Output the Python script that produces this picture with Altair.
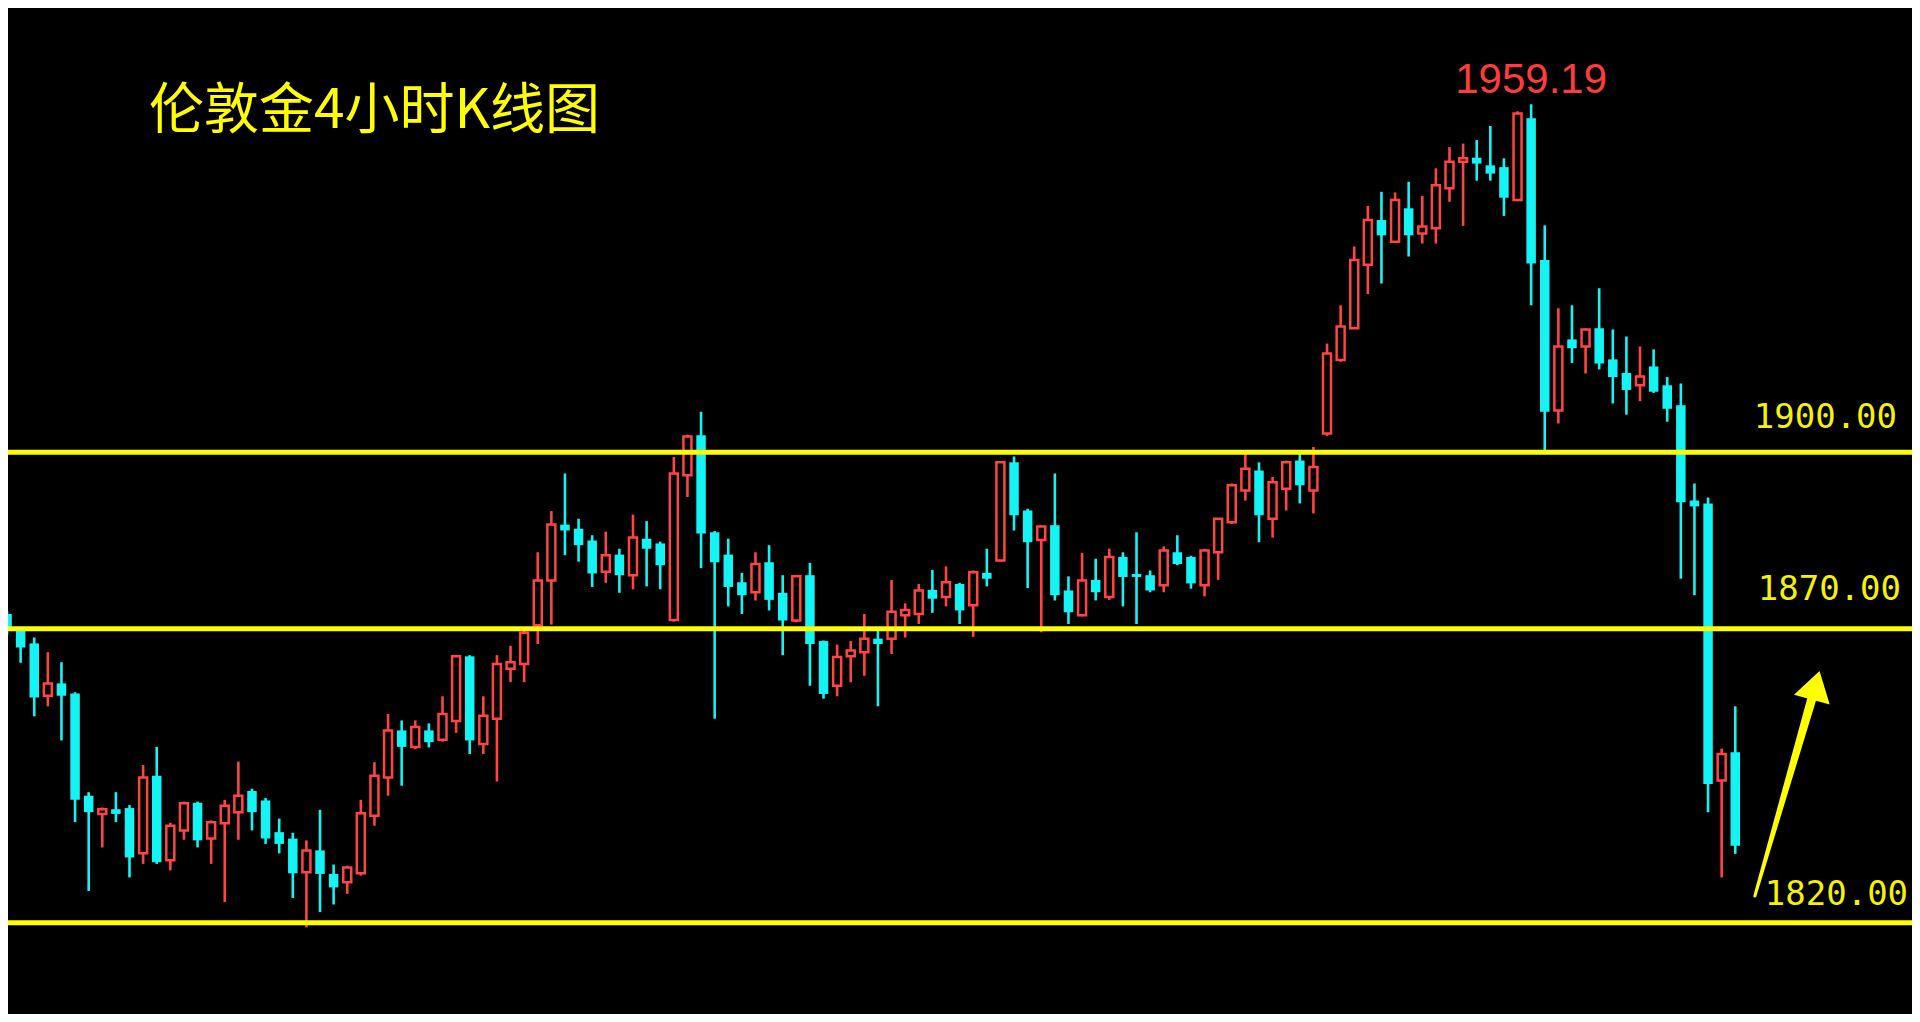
import altair as alt
import pandas as pd

# ---- candle data ----
opens = [1872.5, 1869.8, 1867.5, 1858.6, 1860.7, 1859.0, 1841.6, 1838.5, 1839.3, 1839.5,
         1831.8, 1845.0, 1830.6, 1835.7, 1840.4, 1834.3, 1836.9, 1838.8, 1842.4, 1840.8,
         1835.4, 1834.3, 1828.6, 1832.3, 1828.3, 1826.9, 1828.4, 1838.2, 1844.7, 1852.7,
         1849.9, 1852.7, 1851.1, 1854.3, 1865.3, 1850.4, 1854.7, 1863.2, 1864.0, 1870.6,
         1878.2, 1887.7, 1887.0, 1885.0, 1879.7, 1882.6, 1879.1, 1885.3, 1884.5, 1871.5,
         1896.1, 1902.9, 1886.4, 1882.6, 1877.9, 1876.2, 1881.3, 1876.1, 1871.4, 1879.1,
         1867.9, 1860.3, 1865.3, 1866.0, 1868.3, 1868.3, 1872.3, 1872.5, 1876.6, 1875.4,
         1877.6, 1874.0, 1879.5, 1881.6, 1898.3, 1890.1, 1885.1, 1887.6, 1876.5, 1872.3,
         1878.3, 1875.4, 1882.2, 1879.3, 1879.1, 1877.4, 1883.0, 1882.2, 1877.4, 1883.0,
         1888.1, 1893.5, 1896.9, 1888.7, 1893.8, 1898.6, 1893.5, 1903.2, 1915.7, 1921.1,
         1931.9, 1939.5, 1935.8, 1941.5, 1937.2, 1938.1, 1944.9, 1949.4, 1950.1, 1948.8,
         1948.5, 1942.9, 1956.8, 1932.7, 1907.1, 1919.2, 1918.0, 1921.1, 1915.8, 1913.5,
         1911.4, 1914.6, 1911.4, 1908.0, 1891.8, 1891.3, 1844.2, 1849.0]
highs = [1873.0, 1870.3, 1868.5, 1866.0, 1864.3, 1859.2, 1842.2, 1839.6, 1842.2, 1840.0,
         1846.8, 1849.9, 1837.0, 1840.6, 1840.6, 1837.4, 1840.9, 1847.4, 1842.8, 1841.2,
         1837.7, 1835.3, 1834.0, 1839.2, 1829.9, 1829.7, 1840.9, 1847.3, 1855.5, 1854.4,
         1854.4, 1853.9, 1858.5, 1865.5, 1865.5, 1858.5, 1865.5, 1867.1, 1870.0, 1883.0,
         1890.0, 1896.4, 1888.7, 1885.9, 1886.5, 1883.6, 1889.4, 1888.3, 1884.8, 1899.2,
         1903.0, 1906.9, 1886.6, 1885.3, 1879.5, 1883.0, 1884.2, 1879.1, 1879.1, 1881.2,
         1868.0, 1867.3, 1867.9, 1872.5, 1869.9, 1878.3, 1874.3, 1877.6, 1880.0, 1880.6,
         1877.8, 1879.9, 1883.6, 1898.5, 1899.3, 1890.4, 1887.6, 1896.4, 1878.9, 1882.9,
         1881.9, 1883.6, 1883.0, 1886.4, 1879.9, 1884.0, 1885.9, 1882.4, 1883.6, 1888.8,
         1894.7, 1899.8, 1898.3, 1895.8, 1898.6, 1899.8, 1900.9, 1918.5, 1925.0, 1935.0,
         1941.9, 1944.3, 1944.2, 1946.0, 1943.6, 1948.3, 1951.9, 1952.5, 1953.1, 1955.5,
         1950.0, 1958.0, 1959.19, 1938.6, 1924.5, 1925.0, 1921.1, 1927.9, 1920.9, 1919.7,
         1918.0, 1917.5, 1912.8, 1911.7, 1894.7, 1892.3, 1849.6, 1856.8]
lows = [1869.0, 1864.2, 1855.1, 1856.8, 1851.0, 1837.1, 1825.4, 1832.8, 1837.1, 1827.7,
        1830.0, 1830.0, 1828.9, 1834.1, 1832.8, 1830.0, 1823.5, 1834.1, 1835.7, 1833.4,
        1831.8, 1824.2, 1819.2, 1821.8, 1823.1, 1824.9, 1828.0, 1836.5, 1841.6, 1843.3,
        1849.5, 1849.8, 1850.8, 1852.3, 1848.7, 1848.7, 1844.0, 1860.9, 1860.9, 1867.4,
        1870.7, 1882.5, 1881.4, 1877.1, 1877.8, 1876.1, 1876.7, 1877.2, 1876.7, 1871.2,
        1892.4, 1880.3, 1854.7, 1873.8, 1872.5, 1874.8, 1873.1, 1865.5, 1871.1, 1860.3,
        1858.1, 1858.5, 1860.9, 1862.0, 1856.8, 1865.7, 1868.5, 1870.8, 1872.7, 1873.8,
        1870.8, 1868.6, 1877.2, 1881.4, 1886.7, 1876.9, 1869.4, 1874.8, 1870.8, 1872.1,
        1874.8, 1874.9, 1873.8, 1870.8, 1876.2, 1876.2, 1880.8, 1876.8, 1875.5, 1878.3,
        1887.8, 1891.8, 1884.7, 1885.5, 1890.1, 1891.3, 1889.6, 1902.8, 1915.4, 1921.0,
        1926.9, 1928.7, 1935.6, 1933.3, 1935.5, 1935.5, 1942.6, 1938.5, 1946.2, 1946.2,
        1940.2, 1942.7, 1925.0, 1900.3, 1904.9, 1915.2, 1913.4, 1914.1, 1908.3, 1906.4,
        1908.7, 1910.1, 1905.2, 1878.5, 1875.7, 1838.8, 1827.7, 1831.7]
closes = [1869.8, 1866.8, 1858.3, 1860.7, 1858.6, 1840.9, 1838.8, 1839.3, 1838.5, 1831.1,
          1844.7, 1830.3, 1836.5, 1840.3, 1834.0, 1837.1, 1839.9, 1841.6, 1838.8, 1834.3,
          1833.4, 1828.4, 1832.3, 1828.3, 1826.0, 1829.4, 1838.6, 1845.0, 1852.7, 1849.9,
          1853.3, 1850.7, 1855.5, 1865.3, 1851.0, 1855.2, 1864.0, 1864.3, 1869.3, 1878.2,
          1887.7, 1886.7, 1884.2, 1879.4, 1882.5, 1879.1, 1885.5, 1883.6, 1880.8, 1896.4,
          1902.7, 1886.2, 1881.3, 1877.1, 1875.7, 1881.0, 1874.9, 1871.4, 1878.9, 1867.4,
          1858.9, 1865.2, 1866.3, 1868.3, 1867.4, 1872.9, 1873.2, 1876.5, 1875.1, 1877.9,
          1873.1, 1879.6, 1878.5, 1898.3, 1889.3, 1884.7, 1887.4, 1875.7, 1872.8, 1878.2,
          1876.2, 1882.2, 1878.8, 1878.8, 1876.5, 1883.3, 1881.0, 1877.7, 1883.3, 1888.7,
          1894.4, 1897.2, 1889.3, 1894.9, 1898.3, 1894.4, 1897.5, 1916.8, 1921.4, 1932.7,
          1939.5, 1936.9, 1942.9, 1936.9, 1938.4, 1945.4, 1949.4, 1950.0, 1949.1, 1947.4,
          1943.3, 1957.6, 1932.1, 1906.9, 1918.0, 1917.7, 1920.9, 1915.1, 1912.8, 1910.6,
          1912.9, 1910.3, 1907.4, 1891.5, 1890.8, 1843.6, 1848.7, 1833.1]

# ---- reference levels and annotations ----
levels = [1900, 1870, 1820]
level_labels = ["1900.00", "1870.00", "1820.00"]
label_x = [128.36, 128.65, 129.17]
label_y = [1904.13, 1874.88, 1823.01]

title_text = "伦敦金4小时K线图"
peak_idx = [112]
peak_val = [1959.19]
peak_text = ["1959.19"]

arrow_x = [128.44, 132.60]
arrow_y = [1824.54, 1857.87]
arrow_w = [3, 9]
head_x = [132.84]
head_y = [1859.76]

# ---- layout ----
W, H = 1904, 1006
MARGIN = 8
X0, PX_PER_IDX = 2.0, 13.68
Y1900, PX_PER_USD = 452.3, 5.88
x_dom = [(MARGIN - X0) / PX_PER_IDX, (MARGIN + W - X0) / PX_PER_IDX]
y_dom = [1900 - (MARGIN + H - Y1900) / PX_PER_USD, 1900 + (Y1900 - MARGIN) / PX_PER_USD]

RED = "#ff4444"
CYAN = "#14f4f4"
YELLOW = "#ffff00"

df = pd.DataFrame({
    "i": list(range(len(opens))),
    "o": opens, "h": highs, "l": lows, "c": closes,
})
df["dir"] = ["up" if c > o else "down" for o, c in zip(opens, closes)]

xs = alt.Scale(domain=x_dom, nice=False, zero=False)
ys = alt.Scale(domain=y_dom, nice=False, zero=False)

base = alt.Chart(df)

wicks = base.mark_rule(strokeWidth=2.6).encode(
    x=alt.X("i:Q", scale=xs, axis=None),
    y=alt.Y("l:Q", scale=ys, axis=None),
    y2="h:Q",
    color=alt.Color("dir:N", scale=alt.Scale(domain=["up", "down"], range=[RED, CYAN]), legend=None),
)

down_bodies = base.transform_filter(alt.datum.dir == "down").mark_bar(size=9.5, color=CYAN).encode(
    x=alt.X("i:Q", scale=xs, axis=None),
    y=alt.Y("o:Q", scale=ys, axis=None),
    y2="c:Q",
)

up_bodies = base.transform_filter(alt.datum.dir == "up").mark_bar(
    size=8, fill="#000000", stroke=RED, strokeWidth=2.5
).encode(
    x=alt.X("i:Q", scale=xs, axis=None),
    y=alt.Y("o:Q", scale=ys, axis=None),
    y2="c:Q",
)

lv = pd.DataFrame({"level": levels, "label": level_labels, "lx": label_x, "ly": label_y})
hlines = alt.Chart(lv).mark_rule(color=YELLOW, strokeWidth=5).encode(
    y=alt.Y("level:Q", scale=ys, axis=None),
)
hlabels = alt.Chart(lv).mark_text(
    align="left", baseline="alphabetic", font="DejaVu Sans Mono", fontSize=34, color="#f4f400"
).encode(
    x=alt.X("lx:Q", scale=xs, axis=None),
    y=alt.Y("ly:Q", scale=ys, axis=None),
    text="label:N",
)

title = alt.Chart(pd.DataFrame({"t": [title_text]})).mark_text(
    align="left", baseline="alphabetic", font="Noto Sans CJK SC", fontSize=55, color=YELLOW
).encode(x=alt.value(141), y=alt.value(120), text="t:N")

peak = alt.Chart(pd.DataFrame({"px": peak_idx, "pv": peak_val, "pt": peak_text})).mark_text(
    align="center", baseline="alphabetic", font="Liberation Sans", fontSize=42, color="#ff3c3c", dy=-11
).encode(
    x=alt.X("px:Q", scale=xs, axis=None),
    y=alt.Y("pv:Q", scale=ys, axis=None),
    text="pt:N",
)

arrow = alt.Chart(pd.DataFrame({"ax": arrow_x, "ay": arrow_y, "aw": arrow_w})).mark_trail(color=YELLOW).encode(
    x=alt.X("ax:Q", scale=xs, axis=None),
    y=alt.Y("ay:Q", scale=ys, axis=None),
    size=alt.Size("aw:Q", scale=None, legend=None),
)

head = alt.Chart(pd.DataFrame({"hx": head_x, "hy": head_y})).mark_point(
    shape="M0,-1L1,0.6L-1,0.6Z", size=1369, angle=15, filled=True, color=YELLOW, opacity=1, strokeWidth=0
).encode(
    x=alt.X("hx:Q", scale=xs, axis=None),
    y=alt.Y("hy:Q", scale=ys, axis=None),
)

chart = alt.layer(
    wicks, down_bodies, up_bodies, hlines, hlabels, title, peak, arrow, head
).properties(
    width=W, height=H, background="#000000", padding=0,
    autosize=alt.AutoSizeParams(type="none"),
).configure_view(stroke=None)

chart.save("out.html", embed_options={"renderer": "svg", "actions": False})
